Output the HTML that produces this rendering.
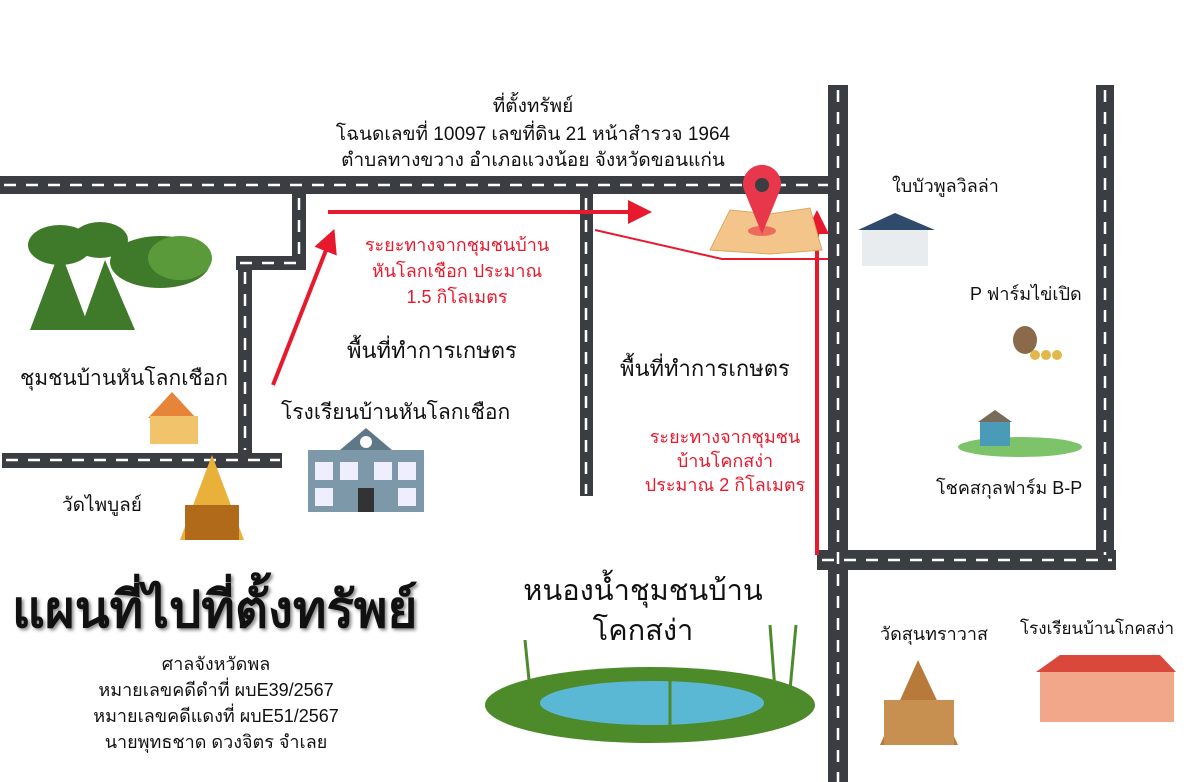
<!DOCTYPE html>
<html><head><meta charset="utf-8"><style>
body{margin:0;width:1200px;height:782px;background:#fff;overflow:hidden;font-family:"Liberation Sans","Noto Sans CJK SC",sans-serif}
svg{position:absolute;left:0;top:0}
text{font-family:"Liberation Sans","Noto Sans CJK SC",sans-serif}
</style></head><body>
<svg width="1200" height="782" viewBox="0 0 1200 782">
<defs>
<marker id="ah" markerWidth="6" markerHeight="6" refX="3" refY="3" orient="auto" markerUnits="strokeWidth"><path d="M0,0 L6,3 L0,6z" fill="#e8192c"/></marker>
</defs>
<g fill="#3a3d42">
<rect x="0" y="176" width="832" height="18"/>
<rect x="828" y="85" width="20" height="697"/>
<rect x="1096" y="85" width="18" height="475"/>
<rect x="817" y="550" width="299" height="20"/>
<rect x="292" y="194" width="14" height="66"/>
<rect x="236" y="256" width="70" height="14"/>
<rect x="238" y="266" width="14" height="188"/>
<rect x="2" y="453" width="280" height="15"/>
<rect x="580" y="194" width="13" height="302"/>
</g>
<g stroke="#fff" stroke-width="2.5" stroke-dasharray="12,10" fill="none">
<line x1="4" y1="185" x2="828" y2="185"/>
<line x1="838" y1="90" x2="838" y2="782"/>
<line x1="1105" y1="90" x2="1105" y2="555"/>
<line x1="822" y1="560" x2="1112" y2="560"/>
<line x1="299" y1="198" x2="299" y2="256"/>
<line x1="240" y1="263" x2="304" y2="263"/>
<line x1="245" y1="272" x2="245" y2="450"/>
<line x1="6" y1="460" x2="280" y2="460"/>
<line x1="586" y1="198" x2="586" y2="494"/>
</g>
<g stroke="#e8192c" fill="none">
<line x1="328" y1="212" x2="640" y2="212" stroke-width="4" marker-end="url(#ah)"/>
<line x1="273" y1="385" x2="330" y2="240" stroke-width="4" marker-end="url(#ah)"/>
<line x1="817" y1="555" x2="817" y2="222" stroke-width="4" marker-end="url(#ah)"/>
<polyline points="595,230 722,259 828,259" stroke-width="2"/>
</g>
<polygon points="710,250 730,210 770,214 810,208 822,250 770,254" fill="#f3c58a" stroke="#d9a860"/>
<ellipse cx="762" cy="231" rx="14" ry="5" fill="#ee6a5a"/>
<path d="M762,234 L744,190 A19,19 0 1 1 780,190 Z" fill="#e8374a"/>
<circle cx="762" cy="185" r="7" fill="#3a3d42"/>
<g fill="#3f7a2a"><ellipse cx="60" cy="245" rx="32" ry="20"/><ellipse cx="100" cy="240" rx="28" ry="18"/><ellipse cx="160" cy="262" rx="50" ry="26"/><polygon points="30,330 60,250 90,330"/><polygon points="80,330 105,260 135,330"/></g>
<g fill="#5a9a3a"><ellipse cx="180" cy="258" rx="32" ry="22"/></g>
<polygon points="148,418 172,392 196,418" fill="#e6853a"/><rect x="150" y="416" width="48" height="28" fill="#f1c36a"/>
<rect x="862" y="230" width="66" height="36" fill="#e9ecef"/><polygon points="858,230 895,213 935,230" fill="#2f4a6a"/>
<ellipse cx="1025" cy="340" rx="12" ry="14" fill="#8a6a4a"/><g fill="#e2b84a"><circle cx="1035" cy="355" r="5"/><circle cx="1046" cy="355" r="5"/><circle cx="1057" cy="355" r="5"/></g>
<ellipse cx="1020" cy="447" rx="62" ry="10" fill="#7cc36a"/><rect x="980" y="422" width="30" height="24" fill="#4a9bb8"/><polygon points="978,422 995,410 1012,422" fill="#7a6a5a"/>
<rect x="308" y="450" width="116" height="62" fill="#7d98a8"/><polygon points="340,450 366,428 392,450" fill="#5e7888"/><circle cx="366" cy="442" r="6" fill="#fff"/>
<g fill="#eef"><rect x="315" y="462" width="18" height="18"/><rect x="340" y="462" width="18" height="18"/><rect x="374" y="462" width="18" height="18"/><rect x="398" y="462" width="18" height="18"/><rect x="315" y="488" width="18" height="18"/><rect x="398" y="488" width="18" height="18"/></g><rect x="358" y="488" width="16" height="24" fill="#333"/>
<polygon points="180,540 212,455 244,540" fill="#e9b03a"/><rect x="185" y="505" width="54" height="35" fill="#b06a1a"/>
<polygon points="880,745 918,660 958,745" fill="#b87a3a"/><rect x="884" y="700" width="70" height="45" fill="#c89050"/>
<polygon points="1036,672 1060,655 1160,655 1176,672" fill="#d9483a"/><rect x="1040" y="672" width="134" height="50" fill="#f2a68a"/>
<ellipse cx="650" cy="705" rx="165" ry="38" fill="#4d8a2a"/><ellipse cx="652" cy="703" rx="112" ry="22" fill="#5bb8d4"/>
<g stroke="#4d8a2a" stroke-width="3"><line x1="525" y1="640" x2="530" y2="690"/><line x1="770" y1="625" x2="775" y2="690"/><line x1="796" y1="625" x2="790" y2="690"/><line x1="670" y1="680" x2="670" y2="730"/></g>
<g font-size="19" fill="#111">
<text x="533" y="112" text-anchor="middle">ที่ตั้งทรัพย์</text>
<text x="533" y="140" text-anchor="middle">โฉนดเลขที่ 10097 เลขที่ดิน 21  หน้าสำรวจ 1964</text>
<text x="533" y="166" text-anchor="middle">ตำบลทางขวาง  อำเภอแวงน้อย จังหวัดขอนแก่น</text>
<text x="892" y="192" font-size="18">ใบบัวพูลวิลล่า</text>
<text x="970" y="300" font-size="18">P ฟาร์มไข่เปิด</text>
<text x="936" y="494" font-size="18">โชคสกุลฟาร์ม B-P</text>
<text x="20" y="385" font-size="21">ชุมชนบ้านหันโลกเชือก</text>
<text x="281" y="419" font-size="21">โรงเรียนบ้านหันโลกเชือก</text>
<text x="347" y="358" font-size="22">พื้นที่ทำการเกษตร</text>
<text x="620" y="376" font-size="22">พื้นที่ทำการเกษตร</text>
<text x="62" y="511">วัดไพบูลย์</text>
<text x="880" y="640" font-size="18">วัดสุนทราวาส</text>
<text x="1020" y="634" font-size="17">โรงเรียนบ้านโกคสง่า</text>
<text x="643" y="600" font-size="29" text-anchor="middle">หนองน้ำชุมชนบ้าน</text>
<text x="643" y="640" font-size="29" text-anchor="middle">โคกสง่า</text>
<g text-anchor="middle" font-size="18"><text x="216" y="670">ศาลจังหวัดพล</text><text x="216" y="696">หมายเลขคดีดำที่ ผบE39/2567</text><text x="216" y="722">หมายเลขคดีแดงที่ ผบE51/2567</text><text x="216" y="748">นายพุทธชาด ดวงจิตร จำเลย</text></g>
</g>
<g font-size="18" fill="#e8192c" text-anchor="middle">
<text x="457" y="251">ระยะทางจากชุมชนบ้าน</text><text x="457" y="277">หันโลกเชือก ประมาณ</text><text x="457" y="303">1.5 กิโลเมตร</text>
<text x="725" y="443">ระยะทางจากชุมชน</text><text x="725" y="467">บ้านโคกสง่า</text><text x="725" y="491">ประมาณ 2 กิโลเมตร</text>
</g>
<text x="12" y="627" font-size="51" font-weight="bold" fill="#111" style="text-shadow:2px 2px 3px #888">แผนที่ไปที่ตั้งทรัพย์</text>
</svg>
</body></html>
